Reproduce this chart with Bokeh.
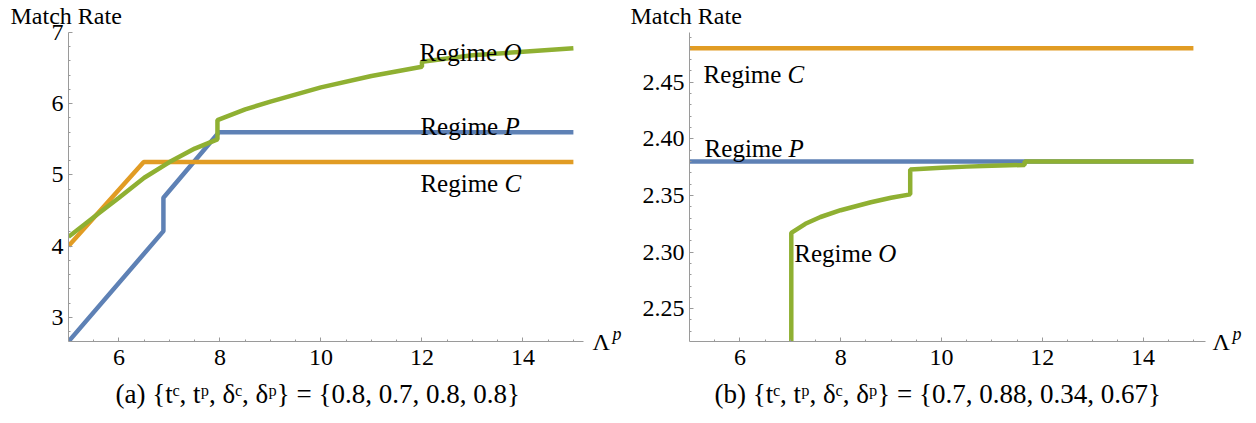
from bokeh.plotting import figure
from bokeh.models import (FixedTicker, Label, Range1d, CustomJSTickFormatter, Title, LinearAxis)
from bokeh.layouts import row
from bokeh.embed import file_html
from bokeh.resources import INLINE

FONT = "Liberation Serif"
BLUE = "#5E81B5"
ORANGE = "#E19C24"
GREEN = "#8FB032"
AXIS_GRAY = "#9a9a9a"

# ---------------- Panel (a) data ----------------
a_P_x = [5.0, 6.88, 6.88, 7.98, 15.0]
a_P_y = [2.66, 4.21, 4.68, 5.60, 5.60]
a_C_x = [5.0, 6.49, 15.0]
a_C_y = [4.00, 5.18, 5.18]
a_O_x = [5.0, 5.6, 6.0, 6.5, 7.0, 7.5, 7.95, 7.95, 8.5, 9.0, 10.0, 11.0, 12.0, 12.0, 13.0, 14.0, 15.0]
a_O_y = [4.13, 4.46, 4.68, 4.96, 5.18, 5.37, 5.50, 5.77, 5.92, 6.03, 6.23, 6.39, 6.52, 6.59, 6.68, 6.73, 6.78]
a_xticks = [6, 8, 10, 12, 14]
a_xtick_labels = ["6", "8", "10", "12", "14"]
a_xminor = [5.5, 6.5, 7.0, 7.5, 8.5, 9.0, 9.5, 10.5, 11.0, 11.5, 12.5, 13.0, 13.5, 14.5, 15.0]
a_yticks = [3, 4, 5, 6, 7]
a_ytick_labels = ["3", "4", "5", "6", "7"]
a_yminor = [2.8, 3.2, 3.4, 3.6, 3.8, 4.2, 4.4, 4.6, 4.8, 5.2, 5.4, 5.6, 5.8, 6.2, 6.4, 6.6, 6.8]
a_xrange = (5.0, 15.2)
a_yrange = (2.66, 7.0)
a_labels = [("Regime ", "O", 11.95, 6.72), ("Regime ", "P", 11.97, 5.68), ("Regime ", "C", 11.97, 4.88)]
a_caption = "(a) {tᶜ, tᵖ, δᶜ, δᵖ} = {0.8, 0.7, 0.8, 0.8}"

# ---------------- Panel (b) data ----------------
b_P_x = [5.0, 15.0]
b_P_y = [2.380, 2.380]
b_C_x = [5.0, 15.0]
b_C_y = [2.480, 2.480]
b_O_x = [7.02, 7.02, 7.3, 7.6, 8.0, 8.6, 9.0, 9.38, 9.38, 10.0, 10.5, 11.0, 11.65, 11.65, 15.0]
b_O_y = [2.200, 2.317, 2.325, 2.331, 2.337, 2.344, 2.348, 2.351, 2.373, 2.3745, 2.3755, 2.3763, 2.377, 2.380, 2.380]
b_xticks = [6, 8, 10, 12, 14]
b_xtick_labels = ["6", "8", "10", "12", "14"]
b_xminor = a_xminor
b_yticks = [2.25, 2.30, 2.35, 2.40, 2.45]
b_ytick_labels = ["2.25", "2.30", "2.35", "2.40", "2.45"]
b_yminor = [2.23, 2.24, 2.26, 2.27, 2.28, 2.29, 2.31, 2.32, 2.33, 2.34, 2.36, 2.37, 2.38, 2.39,
            2.41, 2.42, 2.43, 2.44, 2.46, 2.47, 2.48, 2.49]
b_xrange = (5.0, 15.24)
b_yrange = (2.221, 2.494)
b_labels = [("Regime ", "C", 5.28, 2.4569), ("Regime ", "P", 5.30, 2.3915), ("Regime ", "O", 7.08, 2.2987)]
b_caption = "(b) {tᶜ, tᵖ, δᶜ, δᵖ} = {0.7, 0.88, 0.34, 0.67}"

y_axis_name = "Match Rate"
x_axis_name = "Λ"
x_axis_sup = "p"

FRAME_H = 309  # pixel height of each plotting frame

LABEL_JS = """
for (let i = 0; i < tvals.length; i++) {
    if (Math.abs(tvals[i] - tick) < 1e-9) { return tlabs[i]; }
}
return "";
"""


def style_axis(ax, ticks, minor, labels):
    ax.ticker = FixedTicker(ticks=ticks, minor_ticks=minor)
    ax.formatter = CustomJSTickFormatter(args=dict(tvals=ticks, tlabs=labels), code=LABEL_JS)
    ax.axis_line_color = AXIS_GRAY
    ax.axis_line_width = 1
    ax.major_tick_line_color = AXIS_GRAY
    ax.minor_tick_line_color = AXIS_GRAY
    ax.major_tick_in = 4
    ax.major_tick_out = 0
    ax.minor_tick_in = 2
    ax.minor_tick_out = 0
    ax.major_label_text_font = FONT
    ax.major_label_text_font_size = "24px"
    ax.major_label_text_color = "black"


def name_axis(text, at, size, style, standoff):
    """An invisible right-hand axis whose single tick label carries a name."""
    ax = LinearAxis(ticker=FixedTicker(ticks=[at], minor_ticks=[]),
                    formatter=CustomJSTickFormatter(args=dict(name=text), code="return name;"))
    ax.axis_line_color = None
    ax.major_tick_line_color = None
    ax.minor_tick_line_color = None
    ax.major_tick_in = 0
    ax.major_tick_out = 0
    ax.minor_tick_in = 0
    ax.minor_tick_out = 0
    ax.major_label_standoff = standoff
    ax.major_label_text_font = FONT
    ax.major_label_text_font_size = size
    ax.major_label_text_font_style = style
    ax.major_label_text_color = "black"
    return ax


def panel(Px, Py, Cx, Cy, Ox, Oy, xt, xtl, xm, yt, ytl, ym, xr, yr, labels, caption,
          border_left, border_right, title_off, cap_off, lam_standoff):
    p = figure(width=628, height=423, output_backend="svg", toolbar_location=None,
               x_range=Range1d(*xr), y_range=Range1d(*yr),
               min_border_left=border_left, min_border_right=border_right,
               min_border_top=32, min_border_bottom=82)
    p.outline_line_color = None
    p.xgrid.visible = False
    p.ygrid.visible = False
    p.background_fill_color = "white"
    p.border_fill_color = "white"

    p.title.text = y_axis_name
    p.title.text_font = FONT
    p.title.text_font_style = "normal"
    p.title.text_font_size = "24px"
    p.title.text_color = "black"
    p.title.align = "left"
    p.title.vertical_align = "top"
    p.title.offset = title_off
    p.title.standoff = 4

    xa = p.xaxis[0]
    ya = p.yaxis[0]
    style_axis(xa, xt, xm, xtl)
    style_axis(ya, yt, ym, ytl)
    xa.major_label_standoff = 8
    ya.major_label_standoff = 5

    cap = Title(text=caption, text_font=FONT, text_font_style="normal", text_font_size="27px",
                text_color="black", align="left", offset=cap_off, standoff=19)
    p.add_layout(cap, "below")

    # axis name "Λ^p" at the right end of the horizontal axis
    sup_at = yr[0] + 8 * (yr[1] - yr[0]) / FRAME_H
    p.add_layout(name_axis(x_axis_name, yr[0], "24px", "normal", lam_standoff), "right")
    p.add_layout(name_axis(x_axis_sup, sup_at, "18px", "italic", 0), "right")

    p.line(Px, Py, line_color=BLUE, line_width=4.5)
    p.line(Cx, Cy, line_color=ORANGE, line_width=4.5)
    p.line(Ox, Oy, line_color=GREEN, line_width=4.5)

    for word, letter, lx, ly in labels:
        p.add_layout(Label(x=lx, y=ly, text=word, text_font=FONT, text_font_size="25px",
                           text_color="black", text_baseline="alphabetic"))
        p.add_layout(Label(x=lx, y=ly, x_offset=84, text=letter, text_font=FONT,
                           text_font_size="25px", text_font_style="italic",
                           text_color="black", text_baseline="alphabetic"))
    return p


pa = panel(a_P_x, a_P_y, a_C_x, a_C_y, a_O_x, a_O_y, a_xticks, a_xtick_labels, a_xminor,
           a_yticks, a_ytick_labels, a_yminor, a_xrange, a_yrange, a_labels, a_caption,
           68, 45, -58, 47, 9)
pb = panel(b_P_x, b_P_y, b_C_x, b_C_y, b_O_x, b_O_y, b_xticks, b_xtick_labels, b_xminor,
           b_yticks, b_ytick_labels, b_yminor, b_xrange, b_yrange, b_labels, b_caption,
           61, 51, -59, 25, 7)

layout = row(pa, pb)
open("out.html", "w").write(file_html(layout, INLINE))
